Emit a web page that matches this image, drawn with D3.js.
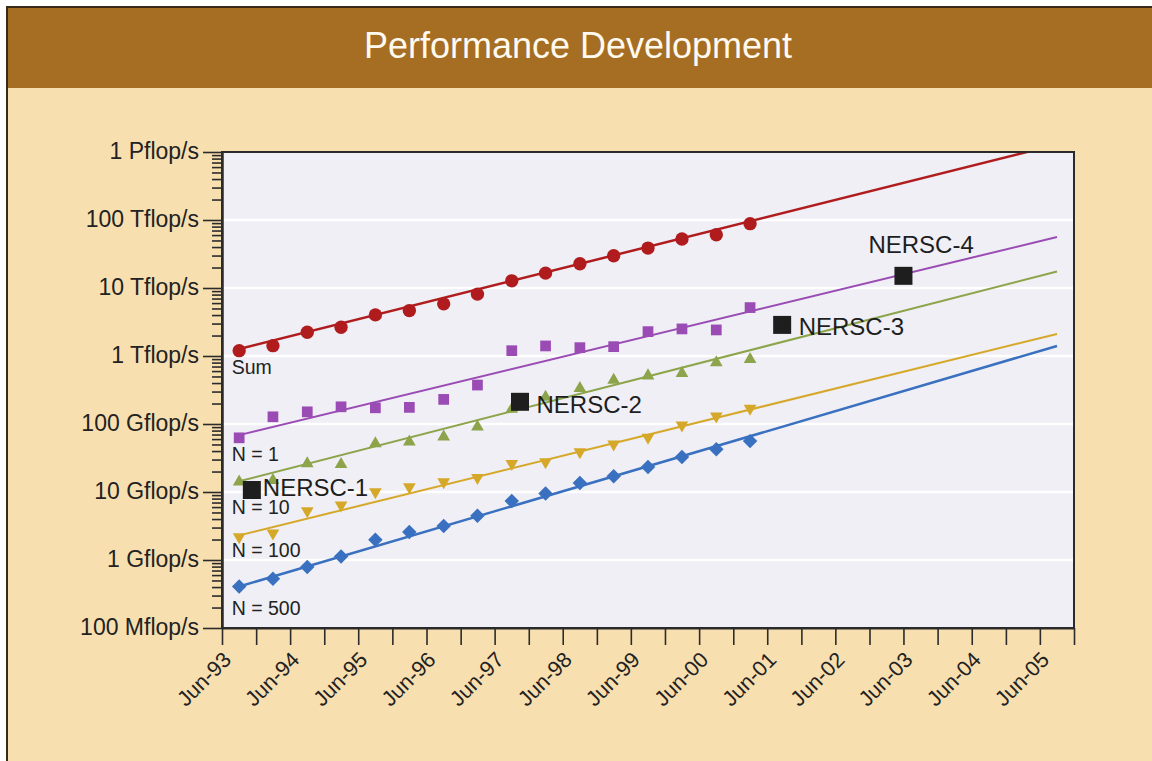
<!DOCTYPE html>
<html>
<head>
<meta charset="utf-8">
<script src="https://cdn.jsdelivr.net/npm/d3@7"></script>
<style>
  body { margin: 0; background: #fff; }
  svg { display: block; font-family: 'Liberation Sans', Arial, sans-serif; }
</style>
</head>
<body>
<svg id="chart" width="1152" height="761"></svg>
<script>
// list dates (one point every half year), values in Gflop/s
const listDates = ['1993-09', '1994-03', '1994-09', '1995-03', '1995-09', '1996-03', '1996-09', '1997-03',
  '1997-09', '1998-03', '1998-09', '1999-03', '1999-09', '2000-03', '2000-09', '2001-03'];

const sumValues = [1197, 1419, 2237, 2650, 4025, 4656, 5845, 8123, 12760, 16560, 22700, 29780, 38650, 52480, 60700, 88300];
const n1Values = [62.6, 127.6, 151, 179, 173, 175.5, 230, 374, 1197, 1406, 1327, 1372, 2282, 2502, 2418, 5152];
const n10Values = [14.1, 14.9, 26.2, 25.6, 51.7, 54.6, 64.7, 90.9, 165.7, 249, 334, 443, 513, 556, 797, 895];
const n100Values = [2.18, 2.49, 5.26, 6.38, 10.0, 11.9, 14.1, 16.2, 26.2, 27.7, 38.9, 50.5, 63.4, 96.3, 130.7, 169.7];
const n500Values = [0.408, 0.53, 0.786, 1.13, 1.99, 2.58, 3.16, 4.47, 7.38, 9.48, 13.6, 17.1, 23.4, 32.8, 42.7, 56.0];

// fitted trend lines (start / end), Gflop/s
const trendDates = ['1993-09', '2005-09'];
const sumTrend = [1269, 1288000];
const n1Trend = [68.6, 56200];
const n10Trend = [14.4, 17490];
const n100Trend = [2.3, 2111];
const n500Trend = [0.408, 1406];

const seriesNames = ['Sum', 'N = 1', 'N = 10', 'N = 100', 'N = 500'];

// NERSC systems
const nerscNames = ['NERSC-1', 'NERSC-2', 'NERSC-3', 'NERSC-4'];
const nerscDates = ['1993-11-08', '1997-10-15', '2001-08-20', '2003-06-01'];
const nerscValues = [10.7, 212, 2866, 15100];

// axis ticks
const yTickValues = [0.1, 1, 10, 100, 1e3, 1e4, 1e5, 1e6];
const yTickLabels = ['100 Mflop/s', '1 Gflop/s', '10 Gflop/s', '100 Gflop/s', '1 Tflop/s', '10 Tflop/s', '100 Tflop/s', '1 Pflop/s'];
const xDomain = ['1993-06-01', '2005-12-01'];

// styles
const seriesStyles = [
  { color: '#b01c1e', symbol: d3.symbolCircle, size: 140, rotate: 0, width: 2.5, labelDy: 23 },
  { color: '#9a4cb4', symbol: d3.symbolSquare, size: 115, rotate: 0, width: 2, labelDy: 23 },
  { color: '#8da44b', symbol: d3.symbolTriangle, size: 70, rotate: 0, width: 2, labelDy: 32 },
  { color: '#d6a82a', symbol: d3.symbolTriangle, size: 70, rotate: 180, width: 2, labelDy: 20 },
  { color: '#3a70c0', symbol: d3.symbolSquare, size: 105, rotate: 45, width: 2.5, labelDy: 29 }
];
const nerscLabelOffsets = [[11, 5.5], [16.5, 11], [16.5, 10], [-35, -23]];

const dimensions = { width: 1152, height: 761 };
const margins = { left: 222, top: 152, right: 78, bottom: 133 };
const innerWidth = dimensions.width - margins.left - margins.right;
const innerHeight = dimensions.height - margins.top - margins.bottom;

const parseMonth = d3.timeParse('%Y-%m');
const parseDay = d3.timeParse('%Y-%m-%d');
const formatTick = d3.timeFormat('%b-%y');

const svg = d3.select('#chart');

// background and title band
svg.append('rect')
  .attr('x', 7).attr('y', 7)
  .attr('width', dimensions.width - 7).attr('height', dimensions.height - 7)
  .attr('fill', '#f8dfb0');

svg.append('rect')
  .attr('x', 7).attr('y', 7)
  .attr('width', dimensions.width - 7).attr('height', 81)
  .attr('fill', '#a56e22');

svg.append('path')
  .attr('d', `M7,${dimensions.height} V7 H${dimensions.width}`)
  .attr('fill', 'none')
  .style('stroke', '#3b2a17')
  .style('stroke-width', 2);

// anchor texts at their start so they measure the same as they draw
const title = svg.append('text')
  .attr('y', 58)
  .style('font-size', '36px')
  .style('fill', '#fffaf0')
  .text('Performance Development');
title.attr('x', 578 - title.node().getComputedTextLength() / 2);

// scales
const x = d3.scaleTime()
  .domain(xDomain.map(parseDay))
  .range([0, innerWidth]);

const y = d3.scaleLog()
  .domain([yTickValues[0], yTickValues[yTickValues.length - 1]])
  .range([innerHeight, 0]);

const plot = svg.append('g')
  .attr('transform', `translate(${margins.left}, ${margins.top})`);

plot.append('rect')
  .attr('width', innerWidth)
  .attr('height', innerHeight)
  .attr('fill', '#efeff5');

plot.append('clipPath')
  .attr('id', 'clip')
  .append('rect')
  .attr('width', innerWidth)
  .attr('height', innerHeight);

// grid lines
plot.append('g')
  .selectAll('line')
  .data(yTickValues.slice(1, -1))
  .enter()
  .append('line')
  .attr('x1', 0)
  .attr('x2', innerWidth)
  .attr('y1', (d) => y(d))
  .attr('y2', (d) => y(d))
  .style('stroke', '#fff')
  .style('stroke-width', 2.5);

const seriesValues = [sumValues, n1Values, n10Values, n100Values, n500Values];
const trendValues = [sumTrend, n1Trend, n10Trend, n100Trend, n500Trend];

const line = d3.line()
  .x((d) => x(d.date))
  .y((d) => y(d.value));

// trend lines
const trendContainer = plot.append('g').attr('clip-path', 'url(#clip)');
trendValues.forEach((values, i) => {
  const points = values.map((v, j) => ({ date: parseMonth(trendDates[j]), value: v }));
  trendContainer.append('path')
    .datum(points)
    .attr('d', line)
    .attr('fill', 'none')
    .style('stroke', seriesStyles[i].color)
    .style('stroke-width', seriesStyles[i].width);
});

// markers
seriesValues.forEach((values, i) => {
  const style = seriesStyles[i];
  const symbol = d3.symbol().type(style.symbol).size(style.size);
  const points = values.map((v, j) => ({ date: parseMonth(listDates[j]), value: v }));

  plot.append('g')
    .selectAll('path')
    .data(points)
    .enter()
    .append('path')
    .attr('d', symbol)
    .attr('transform', (d) => `translate(${x(d.date)}, ${y(d.value)}) rotate(${style.rotate})`)
    .style('fill', style.color);

  plot.append('text')
    .attr('x', x(points[0].date) - 7.5)
    .attr('y', y(points[0].value) + style.labelDy)
    .style('font-size', '19.5px')
    .style('fill', '#222')
    .text(seriesNames[i]);
});

// NERSC systems
const nerscSymbol = d3.symbol().type(d3.symbolSquare).size(324);
nerscNames.forEach((name, i) => {
  const cx = x(parseDay(nerscDates[i]));
  const cy = y(nerscValues[i]);

  plot.append('path')
    .attr('d', nerscSymbol)
    .attr('transform', `translate(${cx}, ${cy})`)
    .style('fill', '#1e1e1e');

  plot.append('text')
    .attr('x', cx + nerscLabelOffsets[i][0])
    .attr('y', cy + nerscLabelOffsets[i][1])
    .style('font-size', '24px')
    .style('fill', '#1e1e1e')
    .text(name);
});

// frame
plot.append('rect')
  .attr('width', innerWidth)
  .attr('height', innerHeight)
  .attr('fill', 'none')
  .style('stroke', '#2b2b2b')
  .style('stroke-width', 2);

// axis
const minorTicks = y.ticks().filter((d) => !yTickValues.some((t) => Math.abs(t - d) / t < 1e-6));

const yMinorAxis = d3.axisLeft(y)
  .tickValues(minorTicks)
  .tickSize(10)
  .tickSizeOuter(0)
  .tickFormat('');

const yAxis = d3.axisLeft(y)
  .tickValues(yTickValues)
  .tickSize(19)
  .tickSizeOuter(0)
  .tickPadding(4)
  .tickFormat((d, i) => yTickLabels[i]);

const xTicks = d3.timeMonth.range(x.domain()[0], d3.timeDay.offset(x.domain()[1], 1), 6);

const xAxis = d3.axisBottom(x)
  .tickValues(xTicks)
  .tickSize(17)
  .tickSizeOuter(0)
  .tickFormat((d) => d.getMonth() === 5 ? formatTick(d) : '');

const yMinorContainer = plot.append('g').call(yMinorAxis);
const yAxisContainer = plot.append('g').call(yAxis);
const xAxisContainer = plot.append('g')
  .attr('transform', `translate(0, ${innerHeight})`)
  .call(xAxis);

[yMinorContainer, yAxisContainer, xAxisContainer].forEach((g) => {
  g.attr('font-family', null).attr('font-size', null).attr('text-anchor', null);
  g.select('.domain').style('stroke', '#2b2b2b').style('stroke-width', 2);
  g.selectAll('.tick line').style('stroke', '#2b2b2b').style('stroke-width', 1.6);
});

yMinorContainer.selectAll('text').remove();

yAxisContainer.selectAll('text')
  .style('font-size', '23px')
  .style('fill', '#222')
  .style('text-anchor', 'start')
  .attr('dy', '0.28em')
  .attr('x', function () { return -23 - this.getComputedTextLength(); });

// only June ticks carry a label
xAxisContainer.selectAll('text')
  .filter((d) => d.getMonth() !== 5)
  .remove();

xAxisContainer.selectAll('text')
  .attr('y', 0)
  .attr('dy', 0)
  .attr('transform', 'translate(10, 33) rotate(-45)')
  .style('font-size', '21.5px')
  .style('fill', '#222')
  .style('text-anchor', 'start')
  .attr('x', function () { return -this.getComputedTextLength(); });
</script>
</body>
</html>
